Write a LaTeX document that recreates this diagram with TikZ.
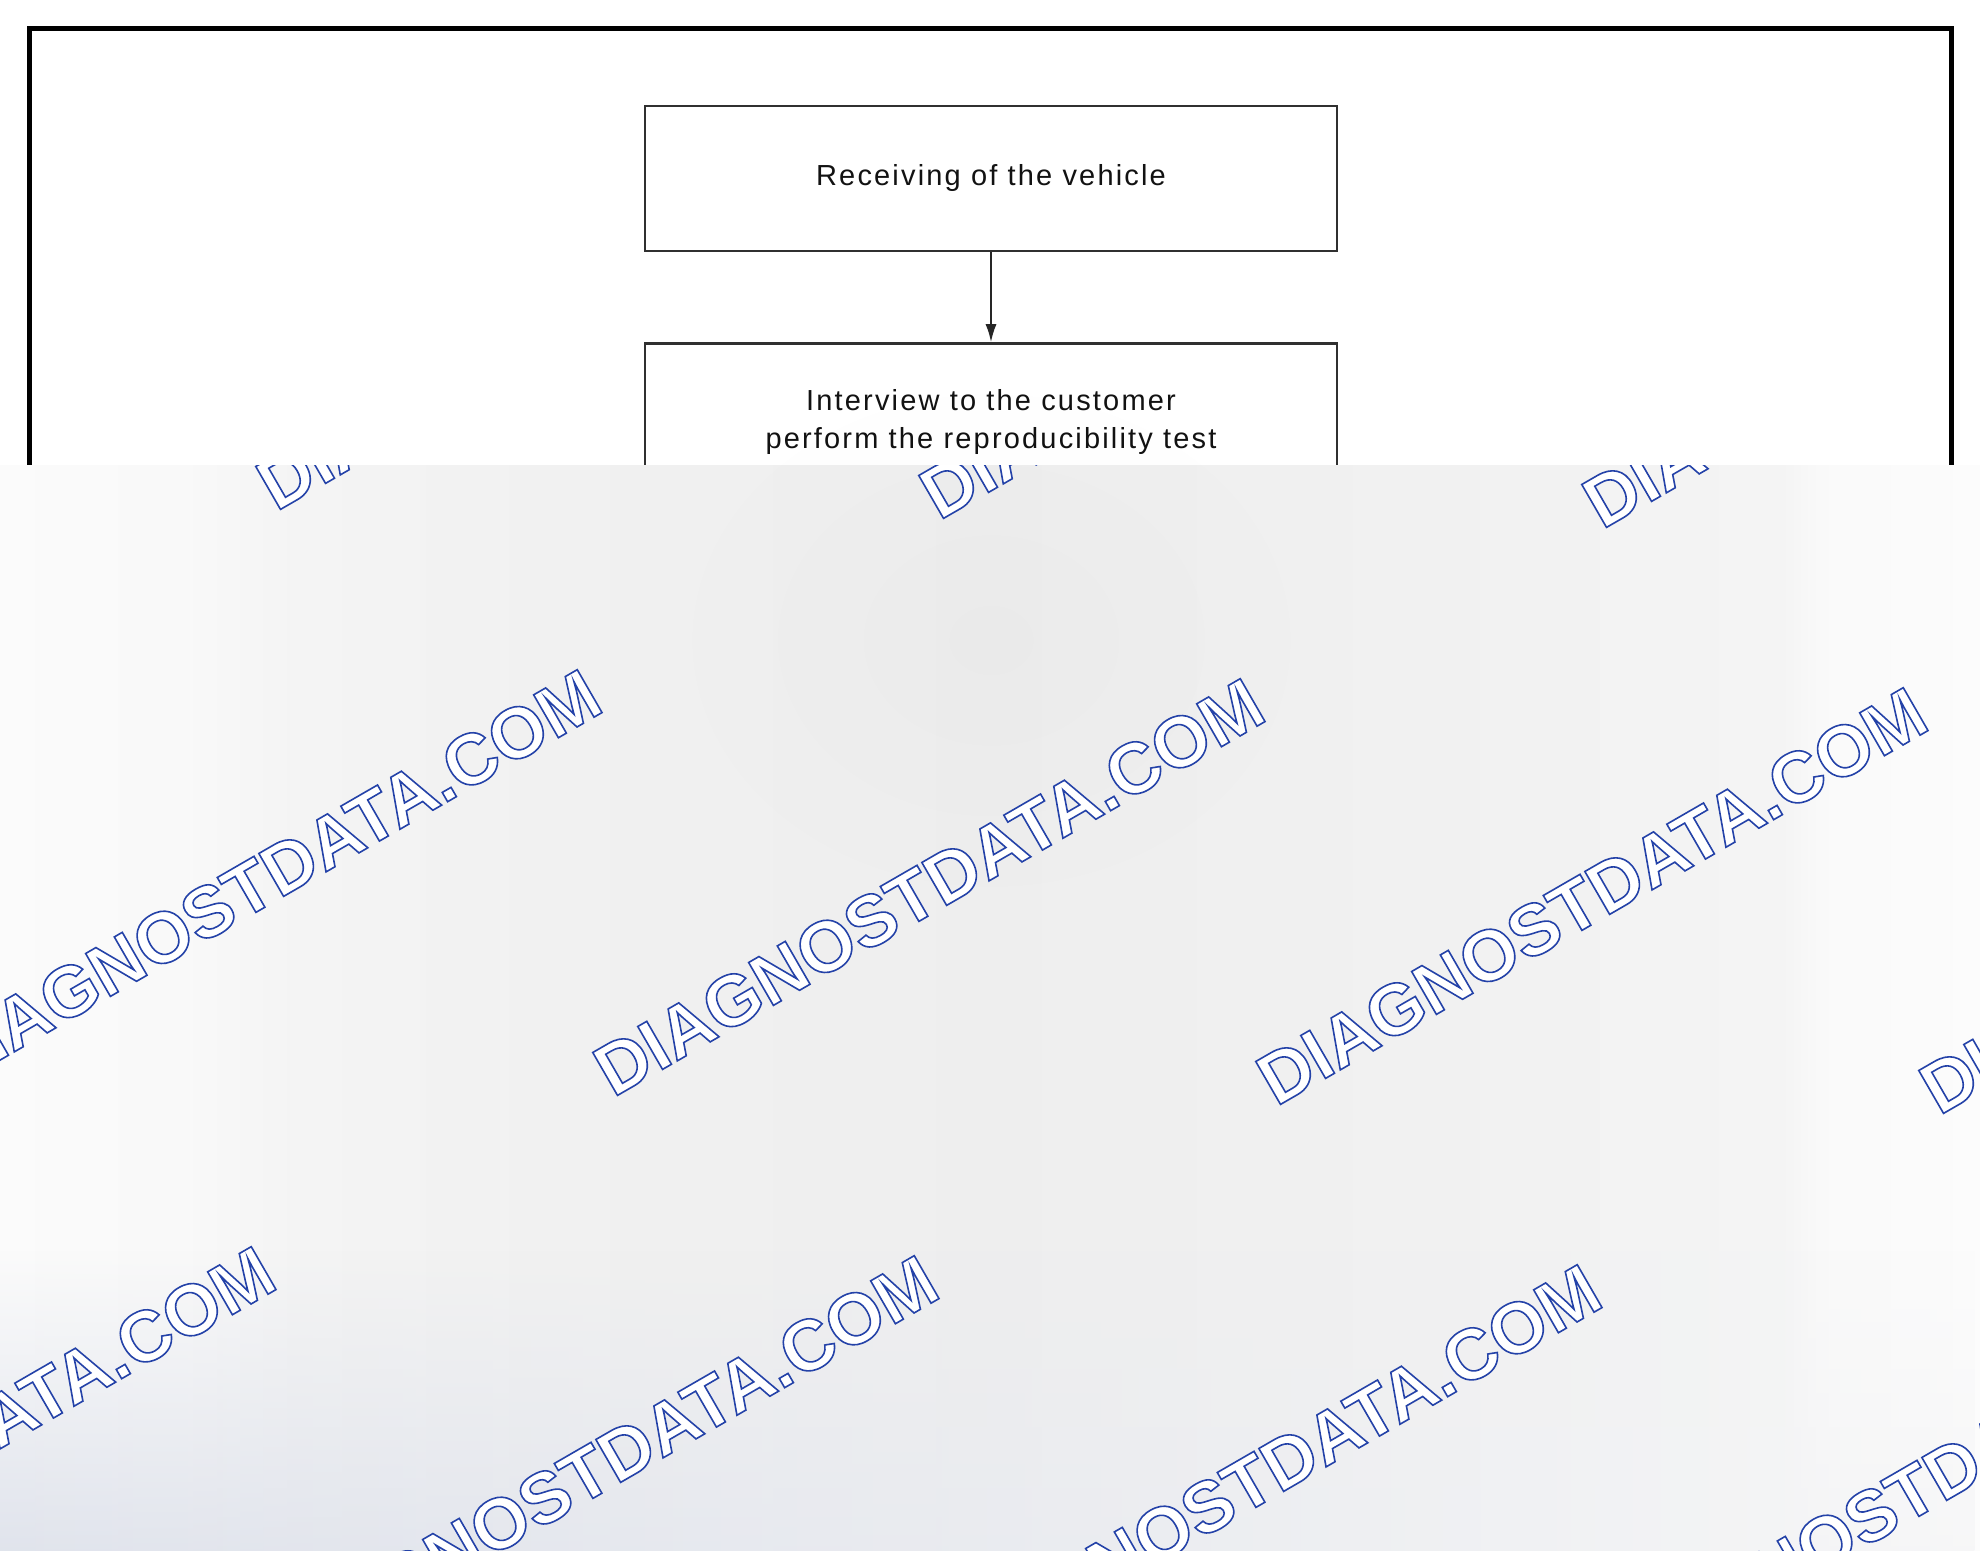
\documentclass[tikz,border=0pt]{standalone}
\usepackage{fontspec}
\setmainfont{Liberation Sans}
\newfontfamily\boxfont[LetterSpace=7.5]{Liberation Sans}
\newfontfamily\wmfam{Liberation Sans}
\usetikzlibrary{arrows.meta,fadings}
\definecolor{wmblue}{RGB}{36,66,168}
\definecolor{boxline}{RGB}{48,48,48}
\definecolor{txtcol}{RGB}{18,18,18}
\definecolor{bluegray}{RGB}{220,224,234}
\definecolor{bgright}{RGB}{246,246,247}
\pgfdeclarehorizontalshading{bgshade}{100bp}{%
 rgb(0bp)=(0.984,0.984,0.984);
 rgb(25bp)=(0.984,0.984,0.984);
 rgb(29.8bp)=(0.975,0.975,0.975);
 rgb(32.5bp)=(0.957,0.957,0.957);
 rgb(39.5bp)=(0.944,0.944,0.944);
 rgb(50bp)=(0.934,0.934,0.934);
 rgb(60bp)=(0.944,0.944,0.944);
 rgb(70bp)=(0.957,0.957,0.957);
 rgb(71bp)=(0.978,0.978,0.978);
 rgb(75bp)=(0.988,0.988,0.988);
 rgb(100bp)=(0.988,0.988,0.988)}
\tikzfading[name=fadeup, top color=transparent!100, bottom color=transparent!0]
\tikzfading[name=fuzzy, inner color=transparent!0, outer color=transparent!100]
\newcommand\wmtext{\special{pdf:literal direct 2 Tr 0.8 w 1 1 1 rg}DIAGNOSTDATA.COM\special{pdf:literal direct 0 Tr}}
\begin{document}
\begin{tikzpicture}[x=0.5pt,y=-0.5pt,
  box/.style={draw=boxline, line width=1.25pt, fill=white, minimum width=346pt,
    inner sep=0pt, text=txtcol, align=center,
    font=\boxfont\fontsize{14.5}{19}\selectfont},
  flow/.style={draw=black!85, line width=1pt, -{Latex[length=9pt,width=5.5pt]}},
  frame/.style={draw=black, line width=2.5pt},
  wm/.style={anchor=base west, rotate=30, inner sep=0pt, text=wmblue,
    font=\wmfam\bfseries\fontsize{36}{36}\selectfont}]
\useasboundingbox (0,0) rectangle (1980,1551);
\fill[white] (0,0) rectangle (1980,1551);
% frame and flowchart
\draw[frame] (29,500) -- (29,29) -- (1951,29) -- (1951,500);
\node[box, minimum height=72.5pt] (recv) at (991,178.5) {Receiving of the vehicle};
\node[box, minimum height=78.5pt] (interview) at (991,422) {Interview to the customer\\perform the reproducibility test};
\draw[flow] (recv) -- (interview);
% grey overlay
\shade[shading=bgshade] (0,465) rectangle (1980,1551);
\fill[black, opacity=0.015, path fading=fuzzy] (991,640) ellipse [x radius=170pt, y radius=140pt];
\shade[left color=bluegray, right color=bgright, path fading=fadeup, opacity=0.85] (0,1250) rectangle (1980,1551);
% watermarks
\begin{scope}
\clip (0,465) rectangle (1980,1551);
\node[wm] (wm1) at (276,512) {\wmtext};
\node[wm] (wm2) at (939,521) {\wmtext};
\node[wm] (wm3) at (1602,530) {\wmtext};
\node[wm] (wm4) at (-50,1089) {\wmtext};
\node[wm] (wm5) at (613,1098) {\wmtext};
\node[wm] (wm6) at (1276,1107) {\wmtext};
\node[wm] (wm7) at (1939,1116) {\wmtext};
\node[wm] (wm8) at (-376,1666) {\wmtext};
\node[wm] (wm9) at (287,1675) {\wmtext};
\node[wm] (wm10) at (950,1684) {\wmtext};
\node[wm] (wm11) at (1613,1693) {\wmtext};
\end{scope}
\end{tikzpicture}
\end{document}
